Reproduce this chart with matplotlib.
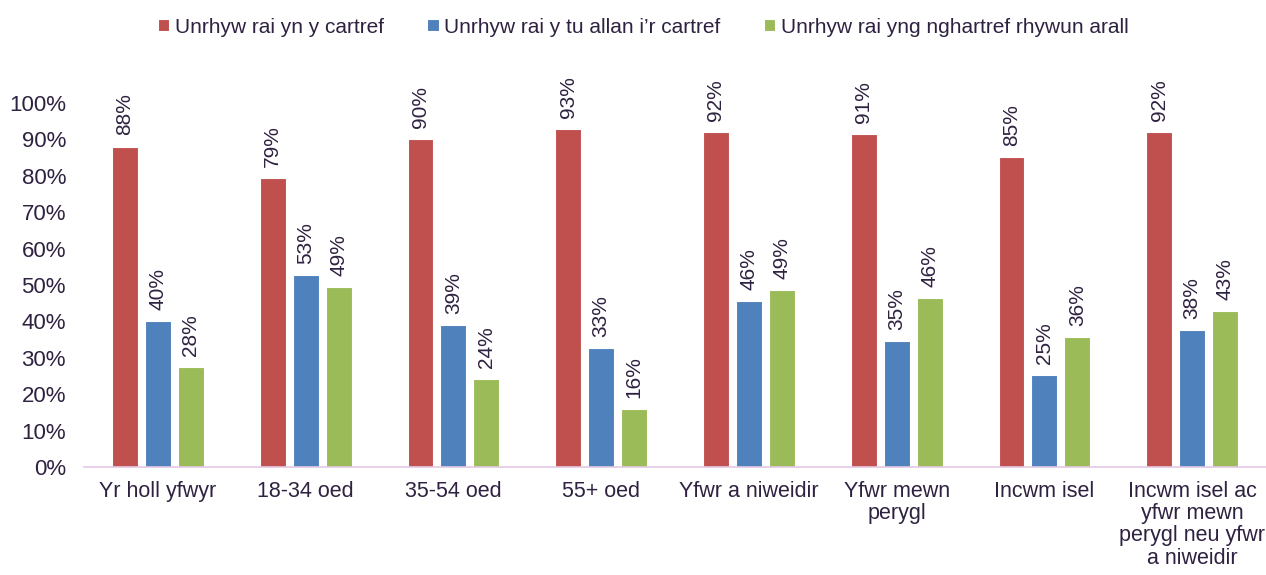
import numpy as np
import matplotlib
matplotlib.use("Agg")
from matplotlib import pyplot as plt
from matplotlib.ticker import PercentFormatter

categories = [
    "Yr holl yfwyr",
    "18-34 oed",
    "35-54 oed",
    "55+ oed",
    "Yfwr a niweidir",
    "Yfwr mewn\nperygl",
    "Incwm isel",
    "Incwm isel ac\nyfwr mewn\nperygl neu yfwr\na niweidir",
]
series_names = [
    "Unrhyw rai yn y cartref",
    "Unrhyw rai y tu allan i\u2019r cartref",
    "Unrhyw rai yng nghartref rhywun arall",
]
at_home = [88.0, 79.4, 90.1, 92.9, 92.0, 91.4, 85.2, 92.0]
outside_home = [40.1, 52.7, 39.0, 32.7, 45.6, 34.6, 25.3, 37.6]
someone_else = [27.5, 49.4, 24.2, 15.9, 48.6, 46.4, 35.7, 42.9]

colors = ["#C0504D", "#4F81BD", "#9BBB59"]
text_color = "#2F2140"

plt.rcParams["font.family"] = ["Liberation Sans", "DejaVu Sans"]

fig = plt.figure(figsize=(12.66, 5.75), dpi=100)
ax = fig.add_axes([0.0664, 0.188, 0.9336, 0.633])

x = np.arange(len(categories))
width = 0.223
bw = 0.175
for i, (vals, name) in enumerate(zip([at_home, outside_home, someone_else], series_names)):
    bars = ax.bar(x + (i - 1) * width, vals, bw, color=colors[i], label=name,
                  edgecolor="white", linewidth=0.8)
    for b, v in zip(bars, vals):
        ax.annotate(f"{v:.0f}%", (b.get_x() + b.get_width() / 2, v),
                    xytext=(0, 8), textcoords="offset points",
                    rotation=90, ha="center", va="bottom",
                    fontsize=15, color=text_color, annotation_clip=False)

ax.set_xlim(-0.5, len(categories) - 0.5)
ax.set_ylim(0, 100)
ax.set_yticks(np.arange(0, 101, 10))
ax.yaxis.set_major_formatter(PercentFormatter(decimals=0))
ax.set_xticks(x)
ax.set_xticklabels(categories, linespacing=1.08)
ax.tick_params(axis="both", length=0, labelsize=15.5, colors=text_color)
ax.tick_params(axis="y", labelsize=16, pad=13)
ax.tick_params(axis="x", pad=10)

for s in ["top", "right", "left"]:
    ax.spines[s].set_visible(False)
ax.spines["bottom"].set_color("#E4C8E4")
ax.spines["bottom"].set_linewidth(1.2)

leg = fig.legend(loc="center", bbox_to_anchor=(0.508, 0.953), ncol=3, frameon=False,
                 fontsize=15, handlelength=0.55, handleheight=0.55, handletextpad=0.25,
                 columnspacing=2.1)
for t in leg.get_texts():
    t.set_color(text_color)

fig.savefig("out.png", dpi=100)
